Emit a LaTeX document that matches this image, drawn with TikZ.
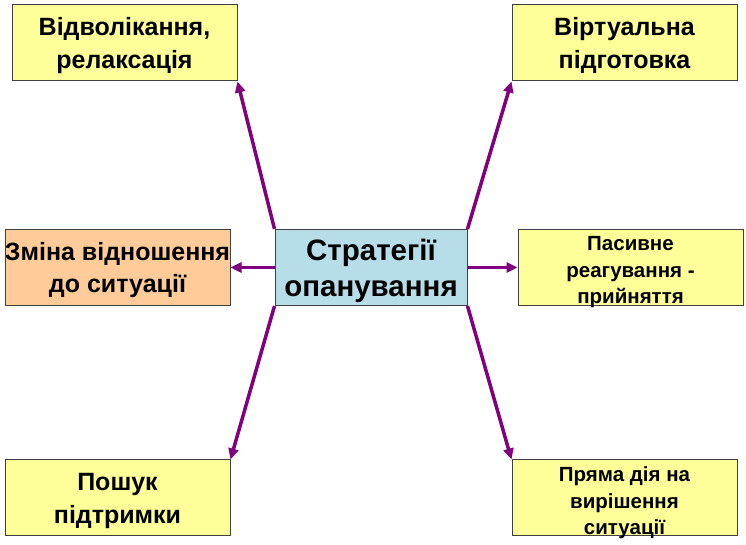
\documentclass[tikz,border=0pt]{standalone}
\usepackage{fontspec}
\setmainfont{Liberation Sans}
\usetikzlibrary{arrows.meta}
\definecolor{boxyellow}{HTML}{FFFF99}
\definecolor{boxorange}{HTML}{FFCC99}
\definecolor{boxblue}{HTML}{B7DDE8}
\definecolor{boxedge}{HTML}{404040}
\definecolor{arrowpurple}{HTML}{800080}
\tikzset{
  box/.style={draw=boxedge, line width=1pt, fill=boxyellow, minimum width=225pt,
    minimum height=76pt, inner sep=0pt},
  centerbox/.style={box, fill=boxblue, minimum width=192pt},
  bigtext/.style={inner sep=0pt, align=center, font=\bfseries\fontsize{25}{32.5}\selectfont},
  smalltext/.style={inner sep=0pt, align=center, font=\bfseries\fontsize{20.5}{26.5}\selectfont},
  centertext/.style={inner sep=0pt, align=center, font=\bfseries\fontsize{29.5}{36}\selectfont},
  link/.style={draw=arrowpurple, line width=3.5pt, -{Triangle[length=11pt,width=10pt]}}
}
\begin{document}
\begin{tikzpicture}[x=1pt,y=1pt]
\useasboundingbox (0,0) rectangle (746,545);
\node[centerbox] (c) at (371,277.5) {};
\node[box] (tl) at (124.5,502) {};
\node[box] (tr) at (624.5,502) {};
\node[box, fill=boxorange] (ml) at (117.5,277.5) {};
\node[box] (mr) at (630.5,277.5) {};
\node[box] (bl) at (117.5,47) {};
\node[box] (br) at (624.5,47) {};
\node[centertext] (ct) at ([yshift=-3.5pt]c.center) {Стратегії\\опанування};
\node[bigtext] (tlt) at ([yshift=-2.5pt]tl.center) {Відволікання,\\релаксація};
\node[bigtext] (trt) at ([yshift=-2.5pt]tr.center) {Віртуальна\\підготовка};
\node[bigtext] (mlt) at ([yshift=-2.5pt]ml.center) {Зміна відношення\\до ситуації};
\node[smalltext] (mrt) at ([yshift=-5pt]mr.center) {Пасивне\\реагування -\\прийняття};
\node[bigtext] (blt) at ([yshift=-3pt]bl.center) {Пошук\\підтримки};
\node[smalltext] (brt) at ([yshift=-5pt]br.center) {Пряма дія на\\вирішення\\ситуації};
\draw[link] (c.north west) -- (tl.south east);
\draw[link] (c.north east) -- (tr.south west);
\draw[link] (c.west) -- (ml.east);
\draw[link] (c.east) -- (mr.west);
\draw[link] (c.south west) -- (bl.north east);
\draw[link] (c.south east) -- (br.north west);
\end{tikzpicture}
\end{document}
